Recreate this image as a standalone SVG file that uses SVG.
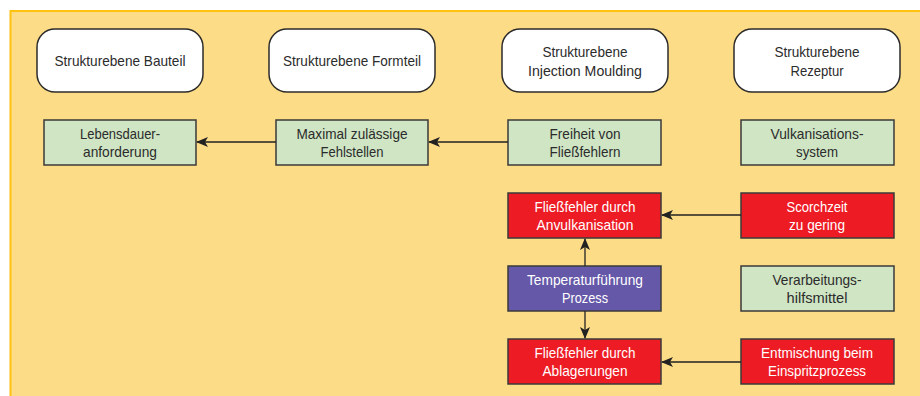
<svg xmlns="http://www.w3.org/2000/svg" width="920" height="396" viewBox="0 0 920 396">
<style>
text{font-family:"Liberation Sans",Arial,sans-serif;font-size:15px;text-anchor:middle;fill:#2b2b2b}
.lvl{fill:#fff;stroke:#2b2b2b;stroke-width:1.5}
.g{fill:#cfe5c4;stroke:#3a3a3a;stroke-width:1.5}
.r{fill:#ed1c24;stroke:#3a3a3a;stroke-width:1.5}
.p{fill:#6558a8;stroke:#3a3a3a;stroke-width:1.5}
.w{fill:#fff}
.c{stroke:#222;stroke-width:1.3;fill:none;marker-end:url(#ah)}
</style>
<defs>
<marker id="ah" viewBox="0 0 12 10" refX="11" refY="5" markerWidth="12" markerHeight="10" markerUnits="userSpaceOnUse" orient="auto">
<path d="M0,0 L12,5 L0,10 L3,5 z" fill="#222"/>
</marker>
</defs>
<rect x="0" y="0" width="920" height="396" fill="#fff"/>
<rect x="10" y="11" width="910" height="385" fill="#fddc87"/>
<path d="M10.5,396 V11 H920" fill="none" stroke="#ffc20e" stroke-width="2"/>

<g id="n-bauteil"><rect class="lvl" x="37" y="29" width="166" height="63" rx="18"/><text x="120" y="66" textLength="131" lengthAdjust="spacingAndGlyphs">Strukturebene Bauteil</text></g>
<g id="n-formteil"><rect class="lvl" x="269" y="29" width="166" height="63" rx="18"/><text x="352" y="66" textLength="138" lengthAdjust="spacingAndGlyphs">Strukturebene Formteil</text></g>
<g id="n-injection"><rect class="lvl" x="502" y="29" width="166" height="63" rx="18"/><text x="585" y="57" textLength="85" lengthAdjust="spacingAndGlyphs">Strukturebene</text><text x="585" y="76" textLength="114" lengthAdjust="spacingAndGlyphs">Injection Moulding</text></g>
<g id="n-rezeptur"><rect class="lvl" x="734" y="29" width="166" height="63" rx="18"/><text x="817" y="57" textLength="85" lengthAdjust="spacingAndGlyphs">Strukturebene</text><text x="817" y="76" textLength="53" lengthAdjust="spacingAndGlyphs">Rezeptur</text></g>

<g id="n-lebensdauer"><rect class="g" x="44" y="120" width="152" height="45"/><text x="120" y="138.5" textLength="80" lengthAdjust="spacingAndGlyphs">Lebensdauer-</text><text x="120" y="156.5" textLength="74" lengthAdjust="spacingAndGlyphs">anforderung</text></g>
<g id="n-maximal"><rect class="g" x="276" y="120" width="152" height="45"/><text x="352" y="138.5" textLength="111" lengthAdjust="spacingAndGlyphs">Maximal zulässige</text><text x="352" y="156.5" textLength="63" lengthAdjust="spacingAndGlyphs">Fehlstellen</text></g>
<g id="n-freiheit"><rect class="g" x="508" y="120" width="153" height="45"/><text x="585" y="138.5" textLength="71" lengthAdjust="spacingAndGlyphs">Freiheit von</text><text x="585" y="156.5" textLength="71" lengthAdjust="spacingAndGlyphs">Fließfehlern</text></g>
<g id="n-vulkan"><rect class="g" x="741" y="120" width="153" height="45"/><text x="817" y="138.5" textLength="93" lengthAdjust="spacingAndGlyphs">Vulkanisations-</text><text x="817" y="156.5" textLength="42" lengthAdjust="spacingAndGlyphs">system</text></g>

<g id="n-anvulk"><rect class="r" x="508" y="193" width="153" height="45"/><text class="w" x="585" y="211.5" textLength="101" lengthAdjust="spacingAndGlyphs">Fließfehler durch</text><text class="w" x="585" y="229.5" textLength="97" lengthAdjust="spacingAndGlyphs">Anvulkanisation</text></g>
<g id="n-scorch"><rect class="r" x="741" y="193" width="153" height="45"/><text class="w" x="817" y="211.5" textLength="61" lengthAdjust="spacingAndGlyphs">Scorchzeit</text><text class="w" x="817" y="229.5" textLength="56" lengthAdjust="spacingAndGlyphs">zu gering</text></g>
<g id="n-temp"><rect class="p" x="508" y="266" width="153" height="45"/><text class="w" x="585" y="284.5" textLength="116" lengthAdjust="spacingAndGlyphs">Temperaturführung</text><text class="w" x="585" y="302.5" textLength="46" lengthAdjust="spacingAndGlyphs">Prozess</text></g>
<g id="n-verarb"><rect class="g" x="741" y="266" width="153" height="45"/><text x="817" y="284.5" textLength="89" lengthAdjust="spacingAndGlyphs">Verarbeitungs-</text><text x="817" y="302.5" textLength="61" lengthAdjust="spacingAndGlyphs">hilfsmittel</text></g>
<g id="n-ablag"><rect class="r" x="508" y="339" width="153" height="45"/><text class="w" x="585" y="357.5" textLength="101" lengthAdjust="spacingAndGlyphs">Fließfehler durch</text><text class="w" x="585" y="375.5" textLength="85" lengthAdjust="spacingAndGlyphs">Ablagerungen</text></g>
<g id="n-entmisch"><rect class="r" x="741" y="339" width="153" height="45"/><text class="w" x="817" y="357.5" textLength="112" lengthAdjust="spacingAndGlyphs">Entmischung beim</text><text class="w" x="817" y="375.5" textLength="98" lengthAdjust="spacingAndGlyphs">Einspritzprozess</text></g>

<g id="connectors">
<path class="c" d="M276,142 H197"/>
<path class="c" d="M508,142 H429"/>
<path class="c" d="M741,215 H662"/>
<path class="c" d="M741,362 H662"/>
<path class="c" d="M585,266 V239"/>
<path class="c" d="M585,311 V338"/>
</g>
</svg>
